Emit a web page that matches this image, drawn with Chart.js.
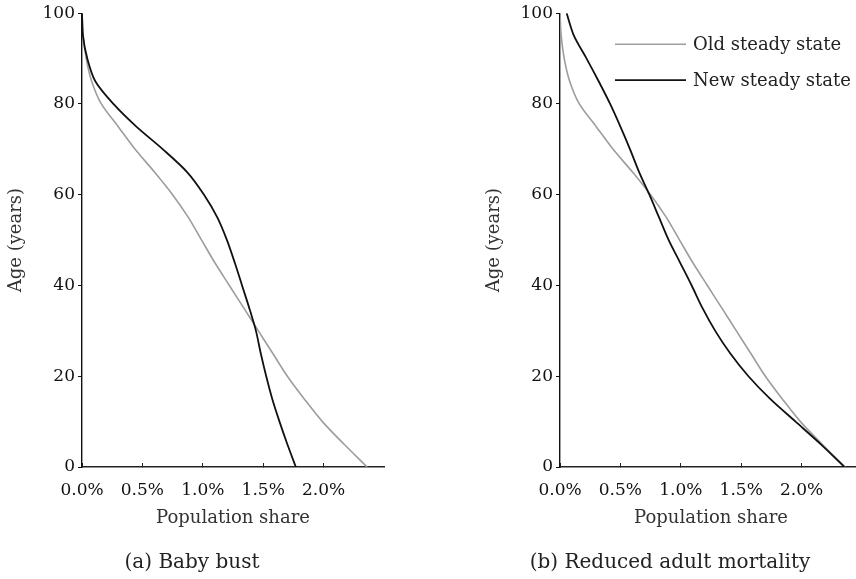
<!DOCTYPE html>
<html>
<head>
<meta charset="utf-8">
<script src="https://cdn.jsdelivr.net/npm/chart.js@4.4.1/dist/chart.umd.min.js"></script>
<style>
  html, body { margin: 0; padding: 0; background: #fff; }
  #wrap { position: relative; width: 856px; height: 579px; overflow: hidden; }
  .panel { position: absolute; top: 0; }
</style>
</head>
<body>
<div id="wrap">
  <div class="panel" style="left:0"><canvas id="grafikA" width="428" height="579"></canvas></div>
  <div class="panel" style="left:478px"><canvas id="grafikB" width="428" height="579"></canvas></div>
</div>
<script>
// usia (tahun), dari atas ke bawah
const usia = [100, 95, 90, 85, 80, 75, 70, 65, 60, 55, 50, 45, 40, 35, 30, 25, 20, 15, 10, 5, 0];

// porsi populasi (%) per usia
const kondisiLama = [0.0, 0.01, 0.035, 0.08, 0.16, 0.30, 0.44, 0.60, 0.75, 0.88, 0.99, 1.10, 1.22, 1.34, 1.46, 1.58, 1.70, 1.84, 1.99, 2.17, 2.36];
const kondisiBaruA = [0.0, 0.008, 0.044, 0.11, 0.26, 0.45, 0.67, 0.87, 1.01, 1.12, 1.20, 1.265, 1.325, 1.385, 1.44, 1.48, 1.525, 1.575, 1.635, 1.70, 1.77];
const kondisiBaruB = [0.055, 0.116, 0.22, 0.32, 0.415, 0.50, 0.58, 0.655, 0.74, 0.82, 0.90, 0.995, 1.09, 1.18, 1.285, 1.41, 1.56, 1.74, 1.95, 2.16, 2.355];

const labelLama = 'Old steady state';
const labelBaru = 'New steady state';
const judulA = '(a) Baby bust';
const judulB = '(b) Reduced adult mortality';
const tickX = [0, 0.5, 1.0, 1.5, 2.0];

Chart.defaults.font.family = "'DejaVu Serif', serif";
Chart.defaults.color = '#111';

function titik(porsi) {
    return porsi.map((p, i) => ({ x: p, y: usia[i] }));
}

// legenda digambar manual di dalam area grafik
const legendaDalam = {
    id: 'legendaDalam',
    afterDraw(chart) {
        const ctx = chart.ctx;
        const area = chart.chartArea;
        const baris = [31, 67];
        ctx.save();
        ctx.font = "18px 'DejaVu Serif'";
        ctx.textBaseline = 'middle';
        chart.data.datasets.forEach((ds, i) => {
            const y = area.top + baris[i];
            ctx.strokeStyle = ds.borderColor;
            ctx.lineWidth = ds.borderWidth;
            ctx.beginPath();
            ctx.moveTo(area.left + 55, y);
            ctx.lineTo(area.left + 126, y);
            ctx.stroke();
            ctx.fillStyle = '#222';
            ctx.fillText(ds.label, area.left + 133, y + 1);
        });
        ctx.restore();
    }
};

function buatGrafik(id, porsiBaru, judul, pakaiLegenda) {
    const ctx = document.getElementById(id).getContext('2d');
    return new Chart(ctx, {
        type: 'line',
        data: {
            datasets: [{
                label: labelLama,
                data: titik(kondisiLama),
                borderColor: '#9d9d9d',
                borderWidth: 1.6,
                order: 2
            }, {
                label: labelBaru,
                data: titik(porsiBaru),
                borderColor: '#111111',
                borderWidth: 1.8,
                order: 1
            }]
        },
        options: {
            responsive: false,
            animation: false,
            devicePixelRatio: 1,
            layout: { padding: { left: 0, right: 44, top: 13, bottom: 4 } },
            elements: {
                point: { radius: 0 },
                line: { tension: 0.3 }
            },
            scales: {
                x: {
                    type: 'linear',
                    min: 0,
                    max: 2.5,
                    afterBuildTicks(scale) {
                        scale.ticks = tickX.map(v => ({ value: v }));
                    },
                    afterFit(scale) { scale.height = 74; },
                    ticks: {
                        padding: 17,
                        font: { size: 17 },
                        color: '#111',
                        callback: v => v.toFixed(1) + '%'
                    },
                    grid: { drawOnChartArea: false, drawTicks: true, tickLength: -4, color: '#222', lineWidth: 1 },
                    border: { color: '#222', width: 1.4 },
                    title: {
                        display: true,
                        text: 'Population share',
                        color: '#333',
                        font: { size: 18 },
                        padding: { top: 0, bottom: 12 }
                    }
                },
                y: {
                    type: 'linear',
                    min: 0,
                    max: 100,
                    afterFit(scale) { scale.width = 82; },
                    ticks: {
                        stepSize: 20,
                        padding: 3,
                        font: { size: 17 },
                        color: '#111'
                    },
                    grid: { drawOnChartArea: false, drawTicks: true, tickLength: 4, color: '#111', lineWidth: 1 },
                    border: { color: '#111', width: 1.4 },
                    title: {
                        display: true,
                        text: 'Age (years)',
                        color: '#333',
                        font: { size: 18 },
                        padding: { top: 6, bottom: 0 }
                    }
                }
            },
            plugins: {
                legend: { display: false },
                tooltip: { enabled: false },
                title: {
                    display: true,
                    position: 'bottom',
                    text: judul,
                    color: '#222',
                    font: { size: 20, weight: 'normal' },
                    padding: { top: 10, bottom: 0 }
                }
            }
        },
        plugins: pakaiLegenda ? [legendaDalam] : []
    });
}

const grafikA = buatGrafik('grafikA', kondisiBaruA, judulA, false);
const grafikB = buatGrafik('grafikB', kondisiBaruB, judulB, true);
</script>
</body>
</html>
